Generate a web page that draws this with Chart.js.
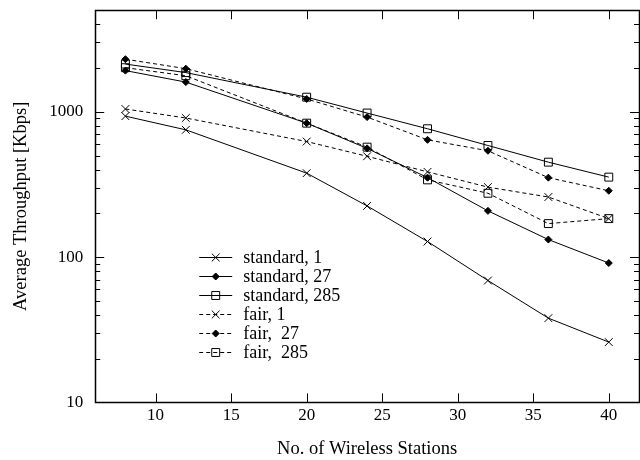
<!DOCTYPE html>
<html>
<head>
<meta charset="utf-8">
<script src="https://cdn.jsdelivr.net/npm/chart.js"></script>
<style>
  html, body { margin: 0; padding: 0; background: #fff; overflow: hidden; }
  #wrap { width: 640px; height: 460px; }
  canvas { display: block; }
</style>
</head>
<body>
<div id="wrap"><canvas id="chartThroughput" width="640" height="460"></canvas></div>

<script>
    // so tram (truc x) va thong luong trung binh (Kbps) cho tung cau hinh
    const stations = [8, 12, 20, 24, 28, 32, 36, 40];
    const standard1   = [933, 751, 378, 225, 128, 69, 38, 26];
    const standard27  = [1920, 1600, 835, 560, 352, 208, 132, 91];
    const standard285 = [2130, 1860, 1260, 980, 764, 586, 450, 355];
    const fair1   = [1045, 906, 624, 494, 386, 303, 259, 184];
    const fair27  = [2300, 1980, 1225, 919, 641, 539, 352, 286];
    const fair285 = [2010, 1770, 835, 571, 340, 275, 170, 184];

    const xTicks = [10, 15, 20, 25, 30, 35, 40];
    const yTicks = [10, 100, 1000];
    const yMinor = [20, 30, 40, 50, 60, 70, 80, 90,
                    200, 300, 400, 500, 600, 700, 800, 900,
                    2000, 3000, 4000];

    const serif = 'Liberation Serif, Times New Roman, serif';
    const dash = [4, 3];

    function pts(values) {
        return stations.map((s, i) => ({x: s, y: values[i]}));
    }

    function series(label, values, marker, dashed) {
        let ds = {
            label: label,
            data: pts(values),
            borderColor: '#000',
            borderWidth: 1,
            borderDash: dashed ? dash : [],
            pointBorderColor: '#000',
            pointBorderWidth: 1,
            tension: 0,
            fill: false,
            marker: marker
        };
        if (marker === 'x') {
            ds.pointStyle = 'crossRot';
            ds.pointRadius = 5.5;
            ds.pointBackgroundColor = '#000';
        } else if (marker === 'diamond') {
            ds.pointStyle = 'rectRot';
            ds.pointRadius = 3.5;
            ds.pointBackgroundColor = '#000';
        } else {
            ds.pointStyle = 'rect';
            ds.pointRadius = 5.6;
            ds.pointBackgroundColor = 'rgba(0,0,0,0)';
        }
        return ds;
    }

    // khung va vach chia huong vao trong (kieu gnuplot)
    const frameTicks = {
        id: 'frameTicks',
        beforeDatasetsDraw(chart) {
            const {ctx, chartArea: a, scales: {x, y}} = chart;
            ctx.save();
            ctx.strokeStyle = '#000';
            ctx.lineWidth = 1;
            ctx.beginPath();
            xTicks.forEach(v => {
                const px = Math.round(x.getPixelForValue(v)) + 0.5;
                ctx.moveTo(px, a.bottom); ctx.lineTo(px, a.bottom - 9);
                ctx.moveTo(px, a.top); ctx.lineTo(px, a.top + 9);
            });
            yTicks.forEach(v => {
                const py = Math.round(y.getPixelForValue(v)) + 0.5;
                ctx.moveTo(a.left, py); ctx.lineTo(a.left + 9, py);
                ctx.moveTo(a.right, py); ctx.lineTo(a.right - 9, py);
            });
            yMinor.forEach(v => {
                const py = Math.round(y.getPixelForValue(v)) + 0.5;
                ctx.moveTo(a.left, py); ctx.lineTo(a.left + 5, py);
                ctx.moveTo(a.right, py); ctx.lineTo(a.right - 5, py);
            });
            ctx.stroke();
            ctx.lineWidth = 1.5;
            ctx.strokeRect(Math.round(a.left) + 0.5, Math.round(a.top) + 0.5,
                Math.round(a.right - a.left), Math.round(a.bottom - a.top));
            ctx.restore();
        }
    };

    function drawMarker(ctx, ds, cx, cy) {
        const r = ds.pointRadius;
        ctx.beginPath();
        if (ds.marker === 'x') {
            const d = r * Math.SQRT1_2;
            ctx.moveTo(cx - d, cy - d); ctx.lineTo(cx + d, cy + d);
            ctx.moveTo(cx - d, cy + d); ctx.lineTo(cx + d, cy - d);
            ctx.stroke();
        } else if (ds.marker === 'diamond') {
            ctx.moveTo(cx - r, cy); ctx.lineTo(cx, cy - r);
            ctx.lineTo(cx + r, cy); ctx.lineTo(cx, cy + r);
            ctx.closePath();
            ctx.fill(); ctx.stroke();
        } else {
            const s = r * Math.SQRT1_2;
            ctx.rect(cx - s, cy - s, 2 * s, 2 * s);
            ctx.stroke();
        }
    }

    // chu thich ben trong vung ve
    const innerLegend = {
        id: 'innerLegend',
        afterDraw(chart) {
            const {ctx, chartArea: a} = chart;
            const x0 = a.left + 104, x1 = a.left + 137, tx = a.left + 148;
            let rowY = a.top + 247;
            ctx.save();
            ctx.font = '18px ' + serif;
            ctx.textBaseline = 'middle';
            ctx.fillStyle = '#000';
            ctx.strokeStyle = '#000';
            ctx.lineWidth = 1;
            chart.data.datasets.forEach(ds => {
                const yy = Math.round(rowY) + 0.5;
                ctx.setLineDash(ds.borderDash);
                ctx.beginPath();
                ctx.moveTo(x0, yy); ctx.lineTo(x1, yy);
                ctx.stroke();
                ctx.setLineDash([]);
                drawMarker(ctx, ds, (x0 + x1) / 2, yy);
                ctx.fillText(ds.label, tx, rowY + 1);
                rowY += 19;
            });
            ctx.restore();
        }
    };

    let data = {
        datasets: [
            series('standard, 1', standard1, 'x', false),
            series('standard, 27', standard27, 'diamond', false),
            series('standard, 285', standard285, 'square', false),
            series('fair, 1', fair1, 'x', true),
            series('fair,  27', fair27, 'diamond', true),
            series('fair,  285', fair285, 'square', true)
        ]
    };

    let ctx = document.getElementById('chartThroughput').getContext('2d');
    let myChart = new Chart(ctx, {
        type: 'line',
        data: data,
        plugins: [frameTicks, innerLegend],
        options: {
            responsive: false,
            animation: false,
            events: [],
            // tat autoPadding de khung sat mep phai
            layout: { autoPadding: false, padding: { left: 0, right: 1, top: 0, bottom: 0 } },
            plugins: {
                legend: { display: false },
                tooltip: { enabled: false }
            },
            scales: {
                x: {
                    type: 'linear',
                    min: 6,
                    max: 42,
                    afterBuildTicks: s => { s.ticks = xTicks.map(v => ({value: v})); },
                    afterFit: s => { s.paddingLeft = 0; s.paddingRight = 0; },
                    // vach chia an, chi giu khoang cach cho nhan
                    grid: { display: false, drawTicks: true, tickLength: 3 },
                    border: { display: false },
                    ticks: {
                        color: '#000',
                        padding: 0,
                        maxRotation: 0,
                        font: { family: serif, size: 17 },
                        callback: v => String(v)
                    },
                    title: {
                        display: true,
                        text: 'No. of Wireless Stations',
                        color: '#000',
                        font: { family: serif, size: 18.5 },
                        padding: { top: 12, bottom: 0 }
                    }
                },
                y: {
                    type: 'logarithmic',
                    min: 10,
                    max: 5000,
                    afterBuildTicks: s => { s.ticks = yTicks.map(v => ({value: v})); },
                    grid: { display: false, drawTicks: true, tickLength: 12 },
                    border: { display: false },
                    ticks: {
                        color: '#000',
                        padding: 0,
                        font: { family: serif, size: 17 },
                        callback: v => String(v)
                    },
                    title: {
                        display: true,
                        text: 'Average Throughput [Kbps]',
                        color: '#000',
                        font: { family: serif, size: 18.5 },
                        padding: { top: 10, bottom: 17 }
                    }
                }
            }
        }
    });
</script>
</body>
</html>
